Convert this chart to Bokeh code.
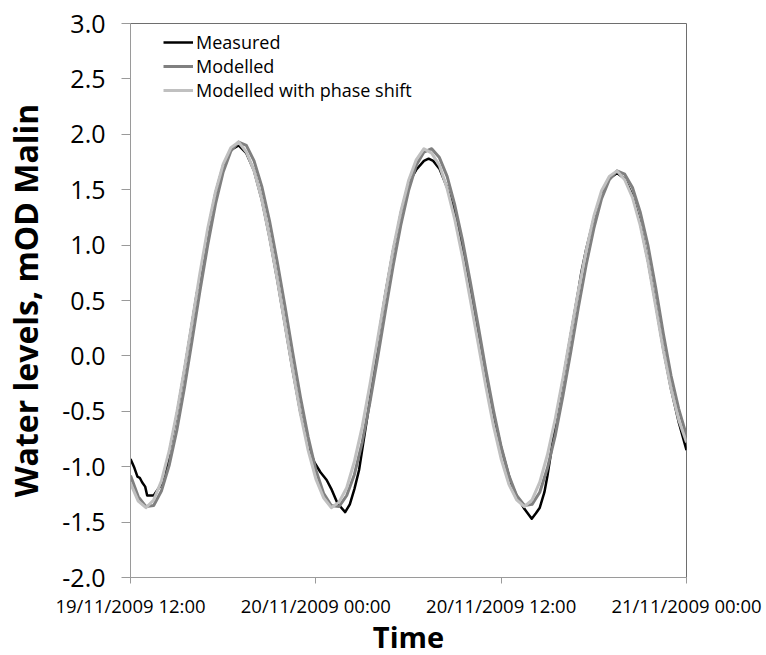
from bokeh.plotting import figure
from bokeh.models import Range1d, FixedTicker, NumeralTickFormatter, Legend, LegendItem
from bokeh.embed import file_html
from bokeh.resources import INLINE

# hours after 19/11/2009 12:00
tick_hours = [0, 12, 24, 36]
tick_labels = ["19/11/2009 12:00", "20/11/2009 00:00", "20/11/2009 12:00", "21/11/2009 00:00"]

model_t = [0.0, 0.5, 1.0, 1.5, 2.0, 2.5, 3.0, 3.5, 4.0, 4.5, 5.0, 5.5, 6.0, 6.5, 7.0, 7.5,
           8.0, 8.5, 9.0, 9.5, 10.0, 10.5, 11.0, 11.5, 12.0, 12.5, 13.0, 13.5, 14.0, 14.5,
           15.0, 15.5, 16.0, 16.5, 17.0, 17.5, 18.0, 18.5, 19.0, 19.5, 20.0, 20.5, 21.0, 21.5,
           22.0, 22.5, 23.0, 23.5, 24.0, 24.5, 25.0, 25.5, 26.0, 26.5, 27.0, 27.5, 28.0, 28.5,
           29.0, 29.5, 30.0, 30.5, 31.0, 31.5, 32.0, 32.5, 33.0, 33.5, 34.0, 34.5, 35.0, 35.5, 36.0]

modelled = [-1.08, -1.27, -1.36, -1.35, -1.22, -0.99, -0.67, -0.28, 0.15, 0.59, 1.00, 1.37,
            1.66, 1.85, 1.93, 1.90, 1.76, 1.53, 1.22, 0.85, 0.45, 0.03, -0.37, -0.73, -1.03,
            -1.24, -1.35, -1.36, -1.26, -1.07, -0.78, -0.42, -0.02, 0.40, 0.81, 1.18, 1.49,
            1.72, 1.84, 1.87, 1.79, 1.62, 1.36, 1.04, 0.67, 0.28, -0.12, -0.49, -0.82, -1.08,
            -1.26, -1.35, -1.34, -1.23, -1.01, -0.72, -0.36, 0.03, 0.44, 0.82, 1.15, 1.42,
            1.59, 1.67, 1.64, 1.52, 1.30, 1.00, 0.62, 0.20, -0.18, -0.48, -0.72]

phase_shift = [-1.15, -1.31, -1.37, -1.30, -1.13, -0.86, -0.51, -0.11, 0.32, 0.75, 1.15, 1.48,
               1.73, 1.88, 1.93, 1.84, 1.67, 1.41, 1.07, 0.69, 0.28, -0.13, -0.52, -0.85, -1.11,
               -1.28, -1.37, -1.32, -1.19, -0.95, -0.64, -0.26, 0.15, 0.56, 0.96, 1.30, 1.58,
               1.77, 1.87, 1.83, 1.72, 1.51, 1.23, 0.89, 0.51, 0.12, -0.27, -0.63, -0.93, -1.16,
               -1.30, -1.36, -1.30, -1.14, -0.89, -0.57, -0.20, 0.20, 0.59, 0.95, 1.26, 1.49,
               1.62, 1.67, 1.59, 1.43, 1.18, 0.85, 0.45, 0.05, -0.30, -0.58, -0.78]

measured_t = [0.0, 0.25, 0.45, 0.6, 0.75, 0.95, 1.08, 1.5, 1.7, 1.95, 2.25, 2.5, 3.0, 3.5,
              4.0, 4.3, 4.5, 4.7, 5.0, 5.5, 6.0, 6.5, 7.0, 7.5, 8.0, 8.5, 9.0, 9.5, 10.0,
              10.5, 11.0, 11.5, 11.9, 12.3, 12.7, 13.0, 13.4, 13.9, 14.2, 14.5, 14.8, 15.0,
              15.5, 16.0, 16.5, 17.0, 17.3, 17.5, 18.0, 18.5, 19.0, 19.3, 19.6, 20.0, 20.5,
              21.0, 21.5, 22.0, 22.5, 23.0, 23.5, 24.0, 24.5, 24.7, 25.0, 25.5, 25.98, 26.25,
              26.5, 26.8, 27.0, 27.2, 27.5, 28.0, 28.5, 29.0, 29.2, 29.5, 29.86, 30.0, 30.5,
              31.0, 31.5, 32.0, 32.5, 33.0, 33.5, 34.0, 34.5, 35.0, 35.5, 36.0]

measured = [-0.93, -1.01, -1.09, -1.10, -1.14, -1.18, -1.26, -1.26, -1.22, -1.17, -1.09, -0.88,
            -0.53, -0.12, 0.31, 0.57, 0.68, 0.80, 1.12, 1.47, 1.72, 1.86, 1.90, 1.83, 1.67,
            1.41, 1.07, 0.69, 0.28, -0.13, -0.51, -0.80, -0.96, -1.05, -1.12, -1.20, -1.33,
            -1.41, -1.34, -1.20, -1.03, -0.85, -0.40, 0.12, 0.56, 0.95, 1.14, 1.29, 1.56,
            1.68, 1.76, 1.78, 1.76, 1.69, 1.52, 1.29, 0.98, 0.62, 0.23, -0.16, -0.52, -0.83,
            -1.08, -1.17, -1.26, -1.38, -1.47, -1.42, -1.37, -1.23, -1.08, -0.90, -0.60, -0.22,
            0.19, 0.59, 0.76, 0.96, 1.16, 1.24, 1.47, 1.60, 1.65, 1.60, 1.45, 1.20, 0.86, 0.47,
            0.06, -0.30, -0.60, -0.85]

FONT = "Open Sans"

p = figure(frame_width=556, frame_height=554, output_backend="svg", toolbar_location=None,
           x_range=Range1d(0, 36), y_range=Range1d(-2, 3),
           min_border_left=130, min_border_right=80, min_border_top=23, min_border_bottom=78,
           background_fill_color="white", border_fill_color="white")

r_meas = p.line(measured_t, measured, line_color="black", line_width=2.5, line_join="round")
r_mod = p.line(model_t, modelled, line_color="#808080", line_width=3, line_join="round")
r_ps = p.line(model_t, phase_shift, line_color="#c0c0c0", line_width=3, line_join="round")

p.xgrid.visible = False
p.ygrid.visible = False
p.outline_line_color = "#6e6e6e"
p.outline_line_width = 1

xa = p.xaxis[0]
xa.ticker = FixedTicker(ticks=tick_hours)
xa.major_label_overrides = {h: lab for h, lab in zip(tick_hours, tick_labels)}
xa.minor_tick_line_color = None
xa.major_tick_in = 0
xa.major_tick_out = 6
xa.axis_line_color = "#9a9a9a"
xa.major_tick_line_color = "#9a9a9a"
xa.major_label_text_font = FONT
xa.major_label_text_font_size = "18.5px"
xa.major_label_text_color = "black"
xa.major_label_standoff = 9
xa.axis_label = "Time"
xa.axis_label_text_font = FONT
xa.axis_label_text_font_style = "bold"
xa.axis_label_text_font_size = "29px"
xa.axis_label_text_color = "black"
xa.axis_label_standoff = -4

ya = p.yaxis[0]
ya.ticker = FixedTicker(ticks=[-2.0, -1.5, -1.0, -0.5, 0.0, 0.5, 1.0, 1.5, 2.0, 2.5, 3.0])
ya.formatter = NumeralTickFormatter(format="0.0")
ya.minor_tick_line_color = None
ya.major_tick_in = 0
ya.major_tick_out = 9
ya.axis_line_color = "#9a9a9a"
ya.major_tick_line_color = "#9a9a9a"
ya.major_label_text_font = FONT
ya.major_label_text_font_size = "25px"
ya.major_label_text_color = "black"
ya.major_label_standoff = 16
ya.axis_label = "Water levels, mOD Malin"
ya.axis_label_text_font = FONT
ya.axis_label_text_font_style = "bold"
ya.axis_label_text_font_size = "32px"
ya.axis_label_text_color = "black"
ya.axis_label_standoff = 12

legend = Legend(items=[LegendItem(label="Measured", renderers=[r_meas]),
                       LegendItem(label="Modelled", renderers=[r_mod]),
                       LegendItem(label="Modelled with phase shift", renderers=[r_ps])],
                location=(33, 475), margin=0, padding=0, spacing=0,
                glyph_width=30, glyph_height=20, label_height=20, label_standoff=3,
                label_text_font=FONT, label_text_font_size="18px", label_text_color="black",
                border_line_color=None, background_fill_alpha=0)
p.add_layout(legend)

open("out.html", "w").write(file_html(p, INLINE))
